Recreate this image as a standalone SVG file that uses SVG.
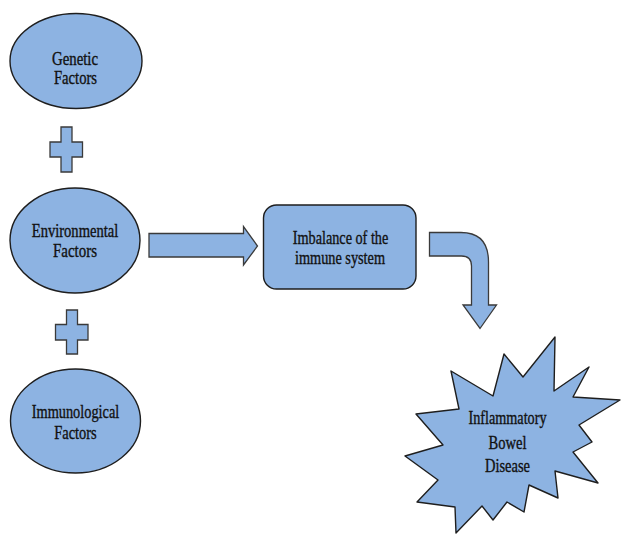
<svg xmlns="http://www.w3.org/2000/svg" width="621" height="534" viewBox="0 0 621 534">
<style>
.shape{fill:#8db3e2;stroke:#1e1e1e;stroke-width:1.4;stroke-linejoin:round}
.conn{fill:#8db3e2;stroke:#3a3a3a;stroke-width:1.3;stroke-linejoin:miter}
.t{font-family:"Liberation Serif","Times New Roman",serif;font-size:18px;fill:#111;stroke:#111;stroke-width:0.35;text-anchor:middle}
</style>
<rect width="621" height="534" fill="#ffffff"/>
<g id="genetic">
<ellipse class="shape" cx="76" cy="61" rx="66" ry="47.5"/>
<text class="t" x="75" y="65" textLength="46" lengthAdjust="spacingAndGlyphs">Genetic</text>
<text class="t" x="75.5" y="83.5" textLength="43" lengthAdjust="spacingAndGlyphs">Factors</text>
</g>
<g id="environmental">
<ellipse class="shape" cx="75" cy="240.5" rx="65" ry="52.5"/>
<text class="t" x="75" y="236.5" textLength="86.5" lengthAdjust="spacingAndGlyphs">Environmental</text>
<text class="t" x="75" y="257" textLength="44" lengthAdjust="spacingAndGlyphs">Factors</text>
</g>
<g id="immunological">
<ellipse class="shape" cx="75.5" cy="421" rx="65" ry="52"/>
<text class="t" x="75.5" y="418" textLength="87.5" lengthAdjust="spacingAndGlyphs">Immunological</text>
<text class="t" x="75.5" y="438.5" textLength="42.5" lengthAdjust="spacingAndGlyphs">Factors</text>
</g>
<g id="imbalance">
<rect class="shape" x="263.5" y="205" width="152.5" height="84" rx="13" ry="13"/>
<text class="t" x="340.5" y="243.5" textLength="95.5" lengthAdjust="spacingAndGlyphs">Imbalance of the</text>
<text class="t" x="340" y="263.5" textLength="90" lengthAdjust="spacingAndGlyphs">immune system</text>
</g>
<g id="ibd">
<polygon class="shape" points="504,354 523,377 555,337 554,391 589,367 573,397 620,400 579,425 592,442 573,452 598,483 555,471 558,498 529,485 524,512 507,502 493,520 482,506 456,533 455,507 417,502 438,480 405,456 443,445 416,414 459,409 451,371 493,396"/>
<text class="t" x="507.5" y="423.5" textLength="78" lengthAdjust="spacingAndGlyphs">Inflammatory</text>
<text class="t" x="507.5" y="448.5" textLength="38" lengthAdjust="spacingAndGlyphs">Bowel</text>
<text class="t" x="507.5" y="472" textLength="45" lengthAdjust="spacingAndGlyphs">Disease</text>
</g>
<g id="connectors">
<path class="conn" d="M61,127 H72 V142 H82.5 V157 H72 V172 H61 V157 H50 V142 H61 Z"/>
<path class="conn" d="M66.5,310 H77.5 V324.5 H88 V340 H77.5 V354 H66.5 V340 H55.5 V324.5 H66.5 Z"/>
<path class="conn" d="M149,233.5 H243.5 V226.5 L257.5,246 L243.5,265 V257 H149 Z"/>
<path class="conn" d="M429.5,232.5 H461 Q488.5,232.5 488.5,262 V305 H496.5 L480,328.5 L463,305 H471.5 V266 Q471.5,256 461.5,256 H429.5 Z"/>
</g>
</svg>
